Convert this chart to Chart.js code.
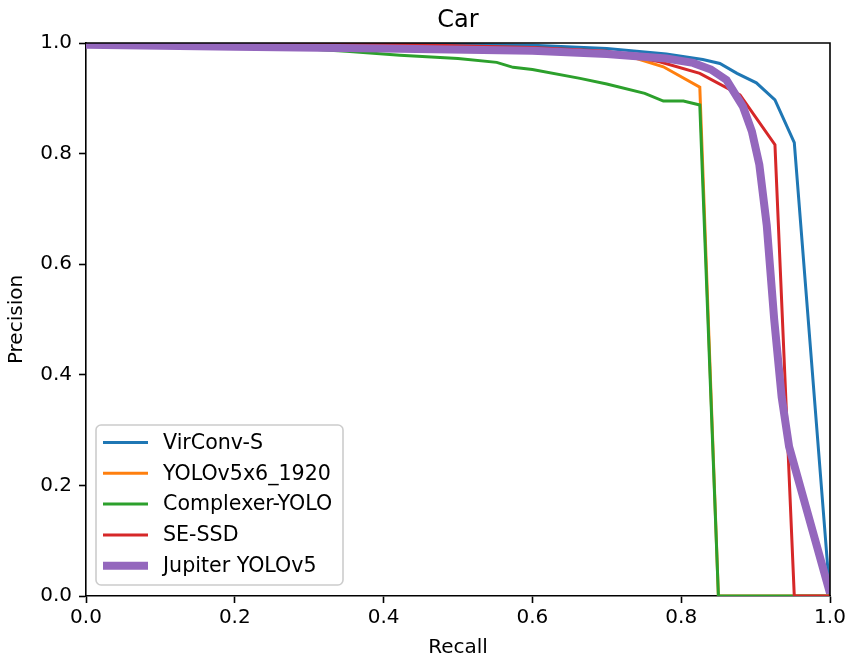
<!DOCTYPE html>
<html>
<head>
<meta charset="utf-8">
<script src="https://cdn.jsdelivr.net/npm/chart.js@4/dist/chart.umd.min.js"></script>
<style>
  html, body { margin: 0; padding: 0; background: #fff; }
  #wrap { width: 849px; height: 658px; }
</style>
</head>
<body>
<div id="wrap"><canvas id="prChart" width="849" height="658"></canvas></div>
<script>
// Precision / recall curves.
const virconvRecall = [0, 0.2, 0.4, 0.6, 0.7, 0.78, 0.829, 0.852, 0.875, 0.901, 0.926, 0.952, 1.0];
const virconvPrec = [1.0, 1.0, 0.999, 0.996, 0.99, 0.98, 0.97, 0.963, 0.945, 0.928, 0.897, 0.82, 0.0];

const yoloRecall = [0, 0.2, 0.4, 0.6, 0.7, 0.74, 0.776, 0.825, 0.85, 1.0];
const yoloPrec = [1.0, 0.999, 0.997, 0.99, 0.98, 0.972, 0.957, 0.92, 0.0, 0.0];

const complexRecall = [0, 0.1, 0.2, 0.3, 0.35, 0.422, 0.5, 0.552, 0.574, 0.6, 0.664, 0.7, 0.751, 0.776, 0.803, 0.825, 0.85, 1.0];
const complexPrec = [1.0, 0.997, 0.993, 0.989, 0.985, 0.978, 0.972, 0.965, 0.956, 0.952, 0.936, 0.926, 0.909, 0.895, 0.895, 0.888, 0.0, 0.0];

const ssdRecall = [0, 0.2, 0.4, 0.6, 0.7, 0.771, 0.825, 0.879, 0.926, 0.952, 1.0];
const ssdPrec = [1.0, 1.0, 0.998, 0.992, 0.985, 0.966, 0.945, 0.906, 0.816, 0.0, 0.0];

const jupiterRecall = [0, 0.2, 0.4, 0.6, 0.7, 0.78, 0.816, 0.84, 0.861, 0.883, 0.895, 0.905, 0.915, 0.925, 0.935, 0.945, 1.0];
const jupiterPrec = [0.997, 0.993, 0.99, 0.986, 0.98, 0.972, 0.964, 0.952, 0.933, 0.885, 0.84, 0.78, 0.67, 0.5, 0.36, 0.27, 0.005];

const FONT = 'DejaVu Sans';

function points(xs, ys) {
  return xs.map((x, i) => ({x: x, y: ys[i]}));
}

function series(label, xs, ys, color, width, order) {
  return {
    label: label,
    data: points(xs, ys),
    borderColor: color,
    backgroundColor: color,
    borderWidth: width,
    pointRadius: 0,
    tension: 0,
    fill: false,
    clip: 0,
    order: order
  };
}

// Title, top/right frame and a matplotlib style legend.
const decor = {
  id: 'decor',
  afterDraw(chart) {
    const ctx = chart.ctx;
    const a = chart.chartArea;
    ctx.save();
    ctx.strokeStyle = '#000';
    ctx.lineWidth = 1.6;
    ctx.beginPath();
    ctx.moveTo(a.left, a.top);
    ctx.lineTo(a.right, a.top);
    ctx.lineTo(a.right, a.bottom);
    ctx.stroke();

    ctx.fillStyle = '#000';
    ctx.font = '24px "' + FONT + '"';
    ctx.textAlign = 'center';
    ctx.textBaseline = 'alphabetic';
    ctx.fillText('Car', (a.left + a.right) / 2, 27);

    // legend
    const bx = a.left + 10, by = 425, bw = 247, bh = 160;
    ctx.beginPath();
    ctx.roundRect(bx, by, bw, bh, 5);
    ctx.fillStyle = 'rgba(255,255,255,0.8)';
    ctx.fill();
    ctx.strokeStyle = '#cccccc';
    ctx.lineWidth = 1.6;
    ctx.stroke();

    ctx.font = '20.6px "' + FONT + '"';
    ctx.textAlign = 'left';
    ctx.textBaseline = 'middle';
    chart.data.datasets.forEach((ds, i) => {
      const y = by + 17.5 + i * 30.8;
      ctx.strokeStyle = ds.borderColor;
      ctx.lineWidth = ds.borderWidth;
      ctx.beginPath();
      ctx.moveTo(bx + 7, y);
      ctx.lineTo(bx + 52, y);
      ctx.stroke();
      ctx.fillStyle = '#000';
      ctx.fillText(ds.label, bx + 67, y + 1);
    });
    ctx.restore();
  }
};

const axisTicks = {
  color: '#000',
  font: {family: FONT, size: 20},
  stepSize: 0.2,
  callback: v => v.toFixed(1)
};

new Chart('prChart', {
  type: 'line',
  data: {
    datasets: [
      series('VirConv-S', virconvRecall, virconvPrec, '#1f77b4', 3, 5),
      series('YOLOv5x6_1920', yoloRecall, yoloPrec, '#ff7f0e', 3, 4),
      series('Complexer-YOLO', complexRecall, complexPrec, '#2ca02c', 3, 3),
      series('SE-SSD', ssdRecall, ssdPrec, '#d62728', 3, 2),
      series('Jupiter YOLOv5', jupiterRecall, jupiterPrec, '#9467bd', 8, 1)
    ]
  },
  options: {
    responsive: false,
    animation: false,
    layout: {padding: {top: 43, right: 19, left: 0, bottom: 0}},
    plugins: {
      legend: {display: false},
      tooltip: {enabled: false}
    },
    scales: {
      x: {
        type: 'linear',
        min: 0,
        max: 1,
        ticks: Object.assign({padding: 3, maxRotation: 0}, axisTicks),
        grid: {display: true, drawOnChartArea: false, drawTicks: true, tickLength: 7, tickColor: '#000', tickWidth: 1.6},
        border: {display: true, color: '#000', width: 1.6},
        title: {display: true, text: 'Recall', color: '#000', font: {family: FONT, size: 20, lineHeight: 1.0}, padding: {top: 4, bottom: 0}},
        afterFit: s => { s.height = 62; }
      },
      y: {
        type: 'linear',
        min: 0,
        max: 1,
        ticks: Object.assign({padding: 7}, axisTicks),
        grid: {display: true, drawOnChartArea: false, drawTicks: true, tickLength: 7, tickColor: '#000', tickWidth: 1.6},
        border: {display: true, color: '#000', width: 1.6},
        title: {display: true, text: 'Precision', color: '#000', font: {family: FONT, size: 20}, padding: {top: 5, bottom: 0}},
        afterFit: s => { s.width = 86; }
      }
    }
  },
  plugins: [decor]
});
</script>
</body>
</html>
